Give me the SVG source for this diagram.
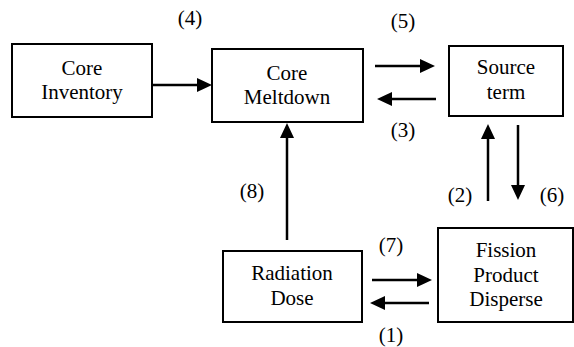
<svg xmlns="http://www.w3.org/2000/svg" width="574" height="347" viewBox="0 0 574 347">
<style>
.box{fill:#fff;stroke:#000;stroke-width:2}
.ln{stroke:#000;stroke-width:2.5;fill:none}
.ah{fill:#000;stroke:none}
</style>
<rect width="574" height="347" fill="#fff"/>
<g id="core-inventory">
<rect class="box" x="12" y="44" width="140" height="73"/>
<text x="82" y="75" style="font-family:'Liberation Serif',serif !important;font-size:21px" text-anchor="middle">Core</text>
<text x="82" y="99" style="font-family:'Liberation Serif',serif !important;font-size:21px" text-anchor="middle">Inventory</text>
</g>
<g id="core-meltdown">
<rect class="box" x="212" y="49" width="151" height="73"/>
<text x="287" y="80" style="font-family:'Liberation Serif',serif !important;font-size:21px" text-anchor="middle">Core</text>
<text x="287" y="104" style="font-family:'Liberation Serif',serif !important;font-size:21px" text-anchor="middle">Meltdown</text>
</g>
<g id="source-term">
<rect class="box" x="449" y="46" width="114" height="70"/>
<text x="506" y="74" style="font-family:'Liberation Serif',serif !important;font-size:21px" text-anchor="middle">Source</text>
<text x="506" y="99" style="font-family:'Liberation Serif',serif !important;font-size:21px" text-anchor="middle">term</text>
</g>
<g id="radiation-dose">
<rect class="box" x="223" y="251" width="139" height="71"/>
<text x="292" y="280" style="font-family:'Liberation Serif',serif !important;font-size:21px" text-anchor="middle">Radiation</text>
<text x="292" y="305" style="font-family:'Liberation Serif',serif !important;font-size:21px" text-anchor="middle">Dose</text>
</g>
<g id="fission-product">
<rect class="box" x="438" y="228" width="135" height="94"/>
<text x="506" y="257" style="font-family:'Liberation Serif',serif !important;font-size:21px" text-anchor="middle">Fission</text>
<text x="506" y="282" style="font-family:'Liberation Serif',serif !important;font-size:21px" text-anchor="middle">Product</text>
<text x="506" y="306" style="font-family:'Liberation Serif',serif !important;font-size:21px" text-anchor="middle">Disperse</text>
</g>
<g id="connectors">
<line class="ln" x1="152" y1="85" x2="198" y2="85"/>
<polygon class="ah" points="197,78 212,85 197,92"/>
<line class="ln" x1="375" y1="66" x2="421" y2="66"/>
<polygon class="ah" points="420,59 435,66 420,73"/>
<line class="ln" x1="436" y1="99" x2="391" y2="99"/>
<polygon class="ah" points="392,92 377,99 392,106"/>
<line class="ln" x1="287" y1="240" x2="287" y2="137"/>
<polygon class="ah" points="280,138 287,123 294,138"/>
<line class="ln" x1="488" y1="201" x2="488" y2="138"/>
<polygon class="ah" points="481,139 488,124 495,139"/>
<line class="ln" x1="518" y1="125" x2="518" y2="186"/>
<polygon class="ah" points="511,185 518,200 525,185"/>
<line class="ln" x1="372" y1="280" x2="418" y2="280"/>
<polygon class="ah" points="417,273 432,280 417,287"/>
<line class="ln" x1="429" y1="303" x2="384" y2="303"/>
<polygon class="ah" points="385,296 370,303 385,310"/>
</g>
<g id="labels">
<text x="190" y="25" style="font-family:'Liberation Serif',serif !important;font-size:21px" text-anchor="middle">(4)</text>
<text x="403" y="28" style="font-family:'Liberation Serif',serif !important;font-size:21px" text-anchor="middle">(5)</text>
<text x="403" y="137" style="font-family:'Liberation Serif',serif !important;font-size:21px" text-anchor="middle">(3)</text>
<text x="252" y="198" style="font-family:'Liberation Serif',serif !important;font-size:21px" text-anchor="middle">(8)</text>
<text x="460" y="202" style="font-family:'Liberation Serif',serif !important;font-size:21px" text-anchor="middle">(2)</text>
<text x="552" y="202" style="font-family:'Liberation Serif',serif !important;font-size:21px" text-anchor="middle">(6)</text>
<text x="391" y="252" style="font-family:'Liberation Serif',serif !important;font-size:21px" text-anchor="middle">(7)</text>
<text x="391" y="342" style="font-family:'Liberation Serif',serif !important;font-size:21px" text-anchor="middle">(1)</text>
</g>
</svg>
